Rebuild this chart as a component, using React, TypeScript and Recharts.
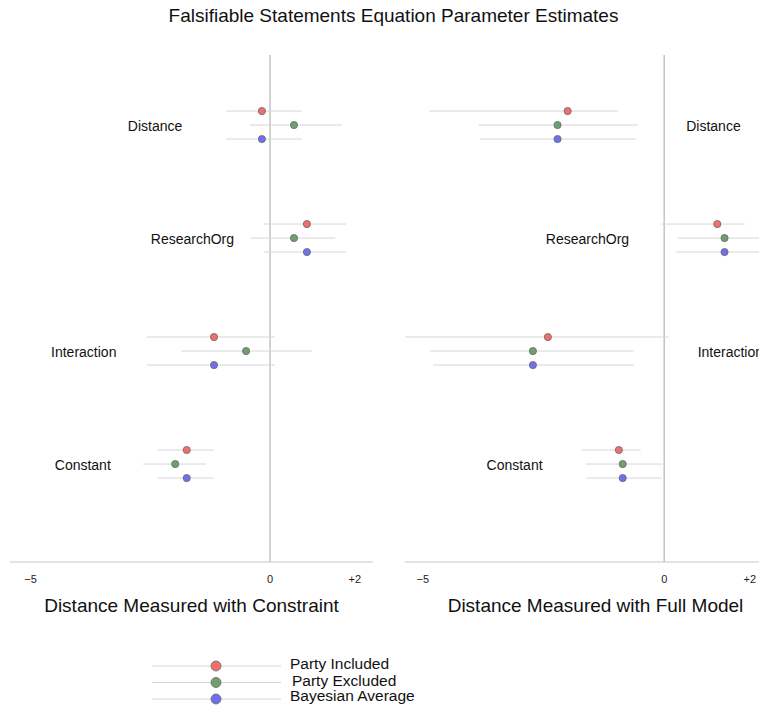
import React from 'react';
import { ScatterChart, Scatter, XAxis, YAxis, ErrorBar, ReferenceLine } from 'recharts';

const terms = ['Distance', 'ResearchOrg', 'Interaction', 'Constant'];
const seriesNames = ['Party Included', 'Party Excluded', 'Bayesian Average'];
const seriesColors = ['#f06e6e', '#6f9f6f', '#6f6fef'];

// [estimate, lower, upper] for each term
const constraintIncluded = [[-0.17, -0.92, 0.67], [0.77, -0.13, 1.59], [-1.17, -2.57, 0.1], [-1.74, -2.35, -1.17]];
const constraintExcluded = [[0.5, -0.42, 1.5], [0.5, -0.4, 1.36], [-0.5, -1.86, 0.88], [-1.98, -2.65, -1.34]];
const constraintBayes = [[-0.17, -0.92, 0.67], [0.77, -0.13, 1.59], [-1.17, -2.57, 0.1], [-1.74, -2.35, -1.17]];

const fullIncluded = [[-2.0, -4.87, -0.96], [1.1, -0.06, 1.67], [-2.41, -5.37, 0.09], [-0.94, -1.71, -0.49]];
const fullExcluded = [[-2.21, -3.84, -0.55], [1.25, 0.28, 2.2], [-2.72, -4.85, -0.63], [-0.86, -1.62, -0.03]];
const fullBayes = [[-2.21, -3.82, -0.58], [1.25, 0.25, 2.2], [-2.72, -4.79, -0.63], [-0.86, -1.62, -0.05]];

// where the term names sit along x
const constraintLabelX = [-2.4, -1.62, -3.89, -3.91];
const fullLabelX = [1.02, -1.59, 1.37, -3.1];

const xTicks = [-5, 0, 2];
const tickText: Record<number, string> = { [-5]: '\u22125', 0: '0', 2: '+2' };

const FONT = '"Liberation Sans", Arial, Helvetica, sans-serif';

function toRows(est: number[][], s: number) {
  return est.map(([v, lo, hi], g) => ({
    x: v,
    y: terms.length - g + (1 - s) * 0.124,
    err: [v - lo, hi - v],
  }));
}

const Tick = (props: any) => {
  const { x, y, payload } = props;
  const shift = payload.value === 2 ? -11 : 0;
  return (
    <text x={x + shift} y={y + 9} textAnchor="middle" dominantBaseline="central" fontSize={11} fill="#222" fontFamily={FONT}>
      {tickText[payload.value]}
    </text>
  );
};

function Panel({ sets, labelX, domain, left }: { sets: number[][][]; labelX: number[]; domain: [number, number]; left: number }) {
  const labels = terms.map((t, g) => ({ x: labelX[g], y: terms.length - g, term: t }));
  return (
    <div style={{ position: 'absolute', left, top: 0 }}>
      <ScatterChart width={383} height={600} margin={{ top: 55, right: 10, left: 10, bottom: 8 }}>
        <XAxis
          dataKey="x"
          type="number"
          domain={domain}
          allowDataOverflow
          ticks={xTicks}
          tickLine={false}
          tickSize={6}
          tickMargin={2}
          height={30}
          axisLine={{ stroke: '#c8c8c8', strokeWidth: 1.2 }}
          tick={<Tick />}
        />
        <YAxis dataKey="y" type="number" domain={[0.133, 4.62]} allowDataOverflow hide />
        <ReferenceLine x={0} stroke="#c4c4c4" strokeWidth={1.5} />
        {sets.map((est, s) => (
          <Scatter
            key={seriesNames[s]}
            name={seriesNames[s]}
            data={toRows(est, s)}
            isAnimationActive={false}
            shape={(p: any) => (
              <circle cx={p.cx} cy={p.cy} r={3.6} fill={seriesColors[s]} stroke="#6a6a6a" strokeWidth={0.8} />
            )}
          >
            <ErrorBar dataKey="err" direction="x" width={0} stroke="#d6d6d6" strokeWidth={1} />
          </Scatter>
        ))}
        <Scatter
          name="terms"
          data={labels}
          isAnimationActive={false}
          shape={(p: any) => (
            <text x={p.cx} y={p.cy + 1} textAnchor="middle" dominantBaseline="central" fontSize={14} fill="#111" fontFamily={FONT}>
              {p.payload?.term ?? p.term}
            </text>
          )}
        />
      </ScatterChart>
    </div>
  );
}

export default function App() {
  const baselines = [669, 685.5, 701];
  const lineYs = [666, 682.5, 699];
  return (
    <div style={{ position: 'absolute', left: 0, top: 0, width: 759, height: 706, overflow: 'hidden', background: '#fff', fontFamily: FONT }}>
      <div style={{ position: 'absolute', left: 0, top: 0, width: 759, textAlign: 'center', paddingLeft: 28, boxSizing: 'border-box', fontSize: 19, lineHeight: '19px', top: 6, color: '#111' }}>
        Falsifiable Statements Equation Parameter Estimates
      </div>
      <Panel sets={[constraintIncluded, constraintExcluded, constraintBayes]} labelX={constraintLabelX} domain={[-5.43, 2.15]} left={0} />
      <Panel sets={[fullIncluded, fullExcluded, fullBayes]} labelX={fullLabelX} domain={[-5.37, 2.15]} left={395} />
      <div style={{ position: 'absolute', left: 0, width: 383, top: 595, textAlign: 'center', fontSize: 19, lineHeight: '22px', color: '#111' }}>
        Distance Measured with Constraint
      </div>
      <div style={{ position: 'absolute', left: 404, width: 383, top: 595, textAlign: 'center', fontSize: 19, lineHeight: '22px', color: '#111' }}>
        Distance Measured with Full Model
      </div>
      <svg style={{ position: 'absolute', left: 0, top: 0 }} width={759} height={706} pointerEvents="none">
        {seriesNames.map((n, i) => (
          <g key={n}>
            <line x1={152} x2={281} y1={lineYs[i]} y2={lineYs[i]} stroke="#d6d6d6" strokeWidth={1} />
            <circle cx={216} cy={lineYs[i]} r={5} fill={seriesColors[i]} stroke="#6a6a6a" strokeWidth={0.8} />
            <text x={i === 1 ? 292 : 290} y={baselines[i]} fontSize={15.5} fill="#111" fontFamily={FONT}>
              {n}
            </text>
          </g>
        ))}
      </svg>
    </div>
  );
}
